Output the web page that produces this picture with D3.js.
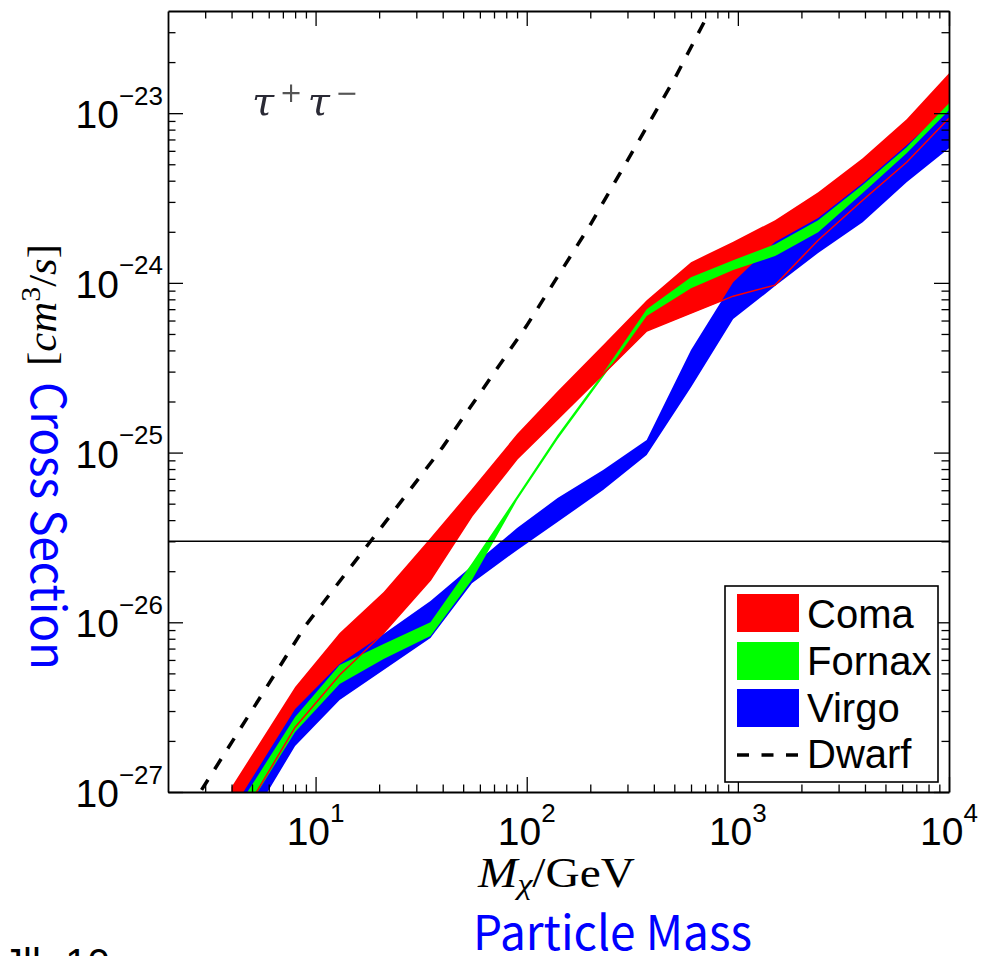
<!DOCTYPE html>
<html>
<head>
<meta charset="utf-8">
<script src="https://cdn.jsdelivr.net/npm/d3@7"></script>
<style>
  body { margin: 0; background: #fff; }
  svg { display: block; }
</style>
</head>
<body>
<svg width="998" height="956"></svg>
<script>
// masses (GeV) where the bands were sampled
const mass = [4, 8, 13, 21, 35, 55, 90, 140, 230, 370, 600, 950, 1500, 2400, 3900, 6300, 10000]

// Coma (red) band, cm^3/s
const comaHi = [1.07e-27, 4.16e-27, 8.64e-27, 1.507e-26, 3.135e-26, 6.10e-26, 1.285e-25, 2.30e-25, 4.30e-25, 7.91e-25, 1.325e-24, 1.75e-24, 2.34e-24, 3.42e-24, 5.43e-24, 9.22e-24, 1.72e-23]
const comaLo = [5.66e-28, 2.41e-27, 4.89e-27, 8.64e-27, 1.774e-26, 4.23e-26, 9.16e-26, 1.575e-25, 2.90e-25, 5.20e-25, 6.63e-25, 8.35e-25, 9.70e-25, 1.785e-24, 3.07e-24, 5.14e-24, 9.34e-24]

// Fornax (green) band
const fornaxHi = [7.12e-28, 2.77e-27, 5.60e-27, 7.44e-27, 1.00e-26, 2.23e-26, 5.54e-26, 1.268e-25, 2.94e-25, 7.00e-25, 1.081e-24, 1.36e-24, 1.69e-24, 2.34e-24, 3.77e-24, 6.30e-24, 1.145e-23]
const fornaxLo = [5.66e-28, 2.26e-27, 4.33e-27, 6.07e-27, 8.30e-27, 1.774e-26, 5.25e-26, 1.20e-25, 2.785e-25, 6.37e-25, 9.31e-25, 1.189e-24, 1.438e-24, 1.99e-24, 3.38e-24, 5.81e-24, 1.04e-23]

// Virgo (blue) band
const virgoHi = [7.73e-28, 3.08e-27, 5.68e-27, 8.53e-27, 1.334e-26, 2.145e-26, 3.59e-26, 5.40e-26, 7.89e-26, 1.185e-25, 4.02e-25, 1.01e-24, 1.74e-24, 2.41e-24, 3.87e-24, 6.48e-24, 1.085e-23]
const virgoLo = [4.43e-28, 1.866e-27, 3.48e-27, 5.23e-27, 8.07e-27, 1.70e-26, 2.66e-26, 3.90e-26, 6.01e-26, 9.67e-26, 2.43e-25, 6.12e-25, 9.57e-25, 1.50e-24, 2.28e-24, 3.92e-24, 6.22e-24]

// dwarf limit (dashed)
const dwarfMass = [2.5, 9, 20, 40, 100, 200, 500, 800]
const dwarfSigma = [7.77e-28, 9.63e-27, 3.49e-26, 1.077e-25, 5.60e-25, 2.20e-24, 1.585e-23, 4.86e-23]

const thermal = 3e-26

const xMajor = [10, 100, 1000, 10000]
const xExp = ["1", "2", "3", "4"]
const yMajor = [1e-27, 1e-26, 1e-25, 1e-24, 1e-23]
const yExp = ["\u221227", "\u221226", "\u221225", "\u221224", "\u221223"]

const legendNames = ["Coma", "Fornax", "Virgo", "Dwarf"]
const bandColors = ["#ff0000", "#00ff00", "#0000ff"]

const svg = d3.select("svg")
const sans = "'Liberation Sans', Arial, Helvetica, sans-serif"
const serif = "'Liberation Serif', 'Times New Roman', serif"
const cjk = "'Noto Sans CJK SC', 'Noto Sans', sans-serif"

const pLeft = 168, pRight = 949, pTop = 11, pBottom = 792

const x = d3.scaleLog().domain([2, 1e4]).range([pLeft, pRight])
const y = d3.scaleLog().domain([1e-27, 4e-23]).range([pBottom, pTop])

const defs = svg.append("defs")
defs.append("clipPath").attr("id", "plotclip")
  .append("rect")
  .attr("x", pLeft).attr("y", pTop)
  .attr("width", pRight - pLeft).attr("height", pBottom - pTop)

defs.append("filter").attr("id", "soft")
  .append("feGaussianBlur").attr("stdDeviation", 0.7)

const plot = svg.append("g").attr("clip-path", "url(#plotclip)")

function band(hi, lo) {
  return mass.map((m, i) => ({m: m, hi: hi[i], lo: lo[i]}))
}

const area = d3.area()
  .x(d => x(d.m))
  .y0(d => y(d.lo))
  .y1(d => y(d.hi))

// draw order: coma, virgo, fornax
plot.append("path").datum(band(comaHi, comaLo)).attr("d", area).attr("fill", bandColors[0])
plot.append("path").datum(band(virgoHi, virgoLo)).attr("d", area).attr("fill", bandColors[2])
plot.append("path").datum(band(fornaxHi, fornaxLo)).attr("d", area).attr("fill", bandColors[1])

// coma lower edge shows through as a thin red line
plot.append("path")
  .datum(mass.map((m, i) => [m, comaLo[i]]))
  .attr("d", d3.line().x(d => x(d[0])).y(d => y(d[1])))
  .attr("fill", "none")
  .attr("stroke", bandColors[0])
  .attr("stroke-width", 1.5)

// thermal relic line
plot.append("line")
  .attr("x1", pLeft).attr("x2", pRight)
  .attr("y1", y(thermal)).attr("y2", y(thermal))
  .attr("stroke", "#000").attr("stroke-width", 1.6)

// dwarf dashed line
plot.append("path")
  .datum(dwarfMass.map((m, i) => [m, dwarfSigma[i]]))
  .attr("d", d3.line().x(d => x(d[0])).y(d => y(d[1])))
  .attr("fill", "none")
  .attr("stroke", "#000")
  .attr("stroke-width", 3.5)
  .attr("stroke-dasharray", "12,12.5")

// axes, ticks inside on all four sides
const isMajor = d => Math.abs(Math.log10(d) - Math.round(Math.log10(d))) < 1e-6
const xt = x.ticks().filter(d => d > 2)
const yt = y.ticks()

function styleAxis(g, sign, horiz) {
  g.select(".domain").attr("stroke", "#000").attr("stroke-width", 1.8)
  g.selectAll(".tick line")
    .attr("stroke", "#000").attr("stroke-width", 1.3)
    .attr(horiz ? "y2" : "x2", d => sign * (isMajor(d) ? 15 : 7.5))
  g.selectAll(".tick text").remove()
}

svg.append("g").attr("transform", `translate(0,${pBottom})`)
  .call(d3.axisTop(x).tickValues(xt).tickSizeOuter(0))
  .call(g => styleAxis(g, -1, true))
svg.append("g").attr("transform", `translate(0,${pTop})`)
  .call(d3.axisBottom(x).tickValues(xt).tickSizeOuter(0))
  .call(g => styleAxis(g, 1, true))
svg.append("g").attr("transform", `translate(${pLeft},0)`)
  .call(d3.axisRight(y).tickValues(yt).tickSizeOuter(0))
  .call(g => styleAxis(g, 1, false))
svg.append("g").attr("transform", `translate(${pRight},0)`)
  .call(d3.axisLeft(y).tickValues(yt).tickSizeOuter(0))
  .call(g => styleAxis(g, -1, false))

// tick labels 10^n
xMajor.forEach((v, i) => {
  const t = svg.append("text")
    .attr("x", x(v)).attr("y", pBottom + 53)
    .attr("text-anchor", "middle")
    .attr("font-family", sans).attr("font-size", 39)
  t.append("tspan").text("10")
  t.append("tspan").attr("dy", -23).attr("font-size", 26).text(xExp[i])
})

yMajor.forEach((v, i) => {
  const t = svg.append("text")
    .attr("x", 163).attr("y", y(v) + 15)
    .attr("text-anchor", "end")
    .attr("font-family", sans).attr("font-size", 39)
  t.append("tspan").text("10")
  t.append("tspan").attr("dy", -23.5).attr("font-size", 26).text(yExp[i])
})

// title tau+ tau-
const title = svg.append("text")
  .attr("x", 252).attr("y", 115)
  .attr("font-family", "'DejaVu Serif', serif").attr("font-style", "italic")
  .attr("font-size", 40).attr("fill", "#2a2a36")
  .attr("filter", "url(#soft)")
  .attr("textLength", 106).attr("lengthAdjust", "spacing")
title.append("tspan").text("\u03c4")
title.append("tspan").attr("dy", -13).attr("font-size", 27).attr("font-style", "normal")
  .attr("fill", "#555").text("+")
title.append("tspan").attr("dy", 13).text("\u03c4")
title.append("tspan").attr("dy", -13).attr("font-size", 27).attr("font-style", "normal")
  .attr("fill", "#555").text("\u2212")

// x axis labels
const xl = svg.append("text")
  .attr("x", 478).attr("y", 887)
  .attr("font-family", serif).attr("font-size", 42)
  .attr("textLength", 157).attr("lengthAdjust", "spacingAndGlyphs")
xl.append("tspan").attr("font-style", "italic").text("M")
xl.append("tspan").attr("font-style", "italic").attr("font-size", 30).attr("dy", 7).text("\u03c7")
xl.append("tspan").attr("dy", -7).text("/GeV")

svg.append("text")
  .attr("x", 473).attr("y", 950)
  .attr("font-family", cjk).attr("font-size", 48)
  .attr("fill", "#0000ff")
  .attr("textLength", 279).attr("lengthAdjust", "spacingAndGlyphs")
  .text("Particle Mass")

// y axis labels
const yl = svg.append("text")
  .attr("transform", "translate(56,366) rotate(-90)")
  .attr("font-family", serif).attr("font-size", 40)
  .attr("textLength", 122).attr("lengthAdjust", "spacingAndGlyphs")
yl.append("tspan").text("[")
yl.append("tspan").attr("font-style", "italic").text("cm")
yl.append("tspan").attr("font-size", 28).attr("dy", -16).text("3")
yl.append("tspan").attr("dy", 16).text("/")
yl.append("tspan").attr("font-style", "italic").text("s")
yl.append("tspan").text("]")

svg.append("text")
  .attr("transform", "translate(31,382) rotate(90)")
  .attr("font-family", cjk).attr("font-size", 48)
  .attr("fill", "#0000ff")
  .attr("textLength", 288).attr("lengthAdjust", "spacingAndGlyphs")
  .text("Cross Section")

// cut-off text at the bottom edge
svg.append("text")
  .attr("x", 3).attr("y", 977)
  .attr("font-family", sans).attr("font-size", 40)
  .text("Jll- 10")

// legend
const lg = svg.append("g")
lg.append("rect")
  .attr("x", 725).attr("y", 586).attr("width", 213).attr("height", 196)
  .attr("fill", "#fff").attr("stroke", "#000").attr("stroke-width", 1.6)

const rowY = [594, 642, 689, 736]
legendNames.forEach((name, i) => {
  if (i < 3) {
    lg.append("rect")
      .attr("x", 737).attr("y", rowY[i]).attr("width", 62).attr("height", 38)
      .attr("fill", bandColors[i])
  } else {
    lg.append("line")
      .attr("x1", 737).attr("x2", 799).attr("y1", 755).attr("y2", 755)
      .attr("stroke", "#000").attr("stroke-width", 3.5)
      .attr("stroke-dasharray", "12,12.5")
  }
  lg.append("text")
    .attr("x", 807).attr("y", [628, 675, 722, 768][i])
    .attr("font-family", sans).attr("font-size", 40)
    .text(name)
})
</script>
</body>
</html>
